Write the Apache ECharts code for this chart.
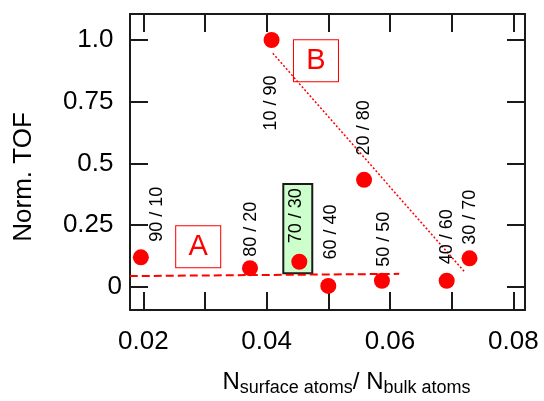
<!DOCTYPE html>
<html><head><meta charset="utf-8">
<script src="https://cdn.jsdelivr.net/npm/echarts@6/dist/echarts.min.js"></script>
<style>html,body{margin:0;padding:0;background:#fff}#c{width:544px;height:401px}</style>
</head><body><div id="c"></div>
<script>
// ---- data ----
const ratioLabels = ['90 / 10','80 / 20','10 / 90','70 / 30','60 / 40','20 / 80','50 / 50','40 / 60','30 / 70'];
const surfaceRatio = [0.0196, 0.0373, 0.0408, 0.0453, 0.0500, 0.0558, 0.0587, 0.0692, 0.0729];
const normTOF      = [0.119, 0.075, 1.000, 0.101, 0.003, 0.433, 0.024, 0.024, 0.115];
const lineAX = [0.0178, 0.0615];
const lineAY = [0.043, 0.052];
const lineBX = [0.0410, 0.0722];
const lineBY = [0.946, 0.057];
const xTicks = [0.02, 0.03, 0.04, 0.05, 0.06, 0.07, 0.08];
const xTickLabels = [0.02, 0.04, 0.06, 0.08];
const yTicks = [0, 0.25, 0.5, 0.75, 1.0];
const yTickText = ['0', '0.25', '0.5', '0.75', '1.0'];
const boxLabels = ['A', 'B'];
const boxX = [0.0289, 0.0480];
const boxY = [0.162, 0.916];
const highlightXRange = [0.0427, 0.0474];
const highlightYRange = [0.054, 0.416];

// ---- styles ----
const FONT = '"Liberation Sans", Arial, Helvetica, sans-serif';
const labelShift = [[16,-43],[1,-39],[-1,63],[-3.5,-46],[3,-54],[0,-52],[2,-41.5],[0.5,-44],[1,-41]];
const RED = '#ff0000';
const INK = '#1a1a1a';
const XMIN = 0.01784, XMAX = 0.0819, YMIN = -0.0945, YMAX = 1.1054;

const chart = echarts.init(document.getElementById('c'), null, {renderer: 'canvas'});

const scatterData = surfaceRatio.map((x, i) => ({
  value: [x, normTOF[i]],
  label: {
    show: true,
    formatter: ratioLabels[i],
    position: [8 + labelShift[i][0], 8 + labelShift[i][1]],
    rotate: 90,
    align: 'center',
    verticalAlign: 'middle',
    fontSize: 18,
    fontFamily: FONT,
    color: '#000'
  }
}));

const axisLineStyle = {show: true, onZero: false, lineStyle: {color: INK, width: 2}};
const tickStyle = (vals) => ({show: true, inside: true, length: 18, customValues: vals, lineStyle: {color: INK, width: 2}});

chart.setOption({
  animation: false,
  backgroundColor: '#fff',
  grid: {left: 130, right: 19, top: 14, bottom: 91, containLabel: false, outerBoundsMode: 'none'},
  xAxis: [{
    type: 'value', position: 'bottom', min: XMIN, max: XMAX,
    axisLine: axisLineStyle,
    axisTick: tickStyle(xTicks),
    splitLine: {show: false},
    axisLabel: {customValues: xTickLabels, formatter: v => v.toFixed(2), fontSize: 26, fontFamily: FONT, color: '#000', margin: 19},
    name: '{n|N}{s|surface atoms}{n|/ N}{s|bulk atoms}',
    nameLocation: 'middle', nameGap: 57,
    nameTextStyle: {
      padding: [0, 0, 0, 38],
      rich: {
        n: {fontSize: 24, fontFamily: FONT, color: '#000', lineHeight: 30, verticalAlign: 'middle'},
        s: {fontSize: 18, fontFamily: FONT, color: '#000', lineHeight: 10, verticalAlign: 'bottom'}
      }
    }
  }, {
    type: 'value', position: 'top', min: XMIN, max: XMAX,
    axisLine: axisLineStyle, axisTick: tickStyle(xTicks),
    axisLabel: {show: false}, splitLine: {show: false}
  }],
  yAxis: [{
    type: 'value', position: 'left', min: YMIN, max: YMAX,
    axisLine: axisLineStyle,
    axisTick: tickStyle(yTicks),
    splitLine: {show: false},
    axisLabel: {
      customValues: yTicks,
      formatter: v => {
        const i = yTicks.findIndex(t => Math.abs(t - v) < 1e-9);
        const t = i >= 0 ? yTickText[i] : String(v);
        return v === 0 ? '{z|' + t + '}' : '{p|' + t + '}';
      },
      margin: 8,
      rich: {
        z: {fontSize: 26, fontFamily: FONT, color: '#000'},
        p: {fontSize: 26, fontFamily: FONT, color: '#000', padding: [0, 8.5, 0, 0]}
      }
    },
    name: 'Norm. TOF',
    nameLocation: 'middle', nameGap: 93,
    nameTextStyle: {fontSize: 26, fontFamily: FONT, color: '#000', padding: [0, 30, 0, 0]}
  }, {
    type: 'value', position: 'right', min: YMIN, max: YMAX,
    axisLine: axisLineStyle, axisTick: tickStyle(yTicks),
    axisLabel: {show: false}, splitLine: {show: false}
  }],
  series: [{
    type: 'line',
    data: lineAX.map((x, i) => [x, lineAY[i]]),
    symbol: 'none',
    lineStyle: {color: RED, width: 2, type: [8, 4]},
    z: 3,
    markArea: {
      silent: true,
      itemStyle: {color: '#ccffcc', borderColor: INK, borderWidth: 2, opacity: 1},
      label: {show: false},
      data: [[{coord: [highlightXRange[0], highlightYRange[1]]}, {coord: [highlightXRange[1], highlightYRange[0]]}]]
    },
    markPoint: {
      z: 3,
      silent: true,
      data: boxLabels.map((t, i) => ({
        coord: [boxX[i], boxY[i]],
        symbol: 'rect', symbolSize: [45, 42],
        itemStyle: {color: '#fff', borderColor: RED, borderWidth: 1},
        label: {show: true, position: 'inside', formatter: t, color: RED, fontSize: 29, fontFamily: FONT}
      }))
    }
  }, {
    type: 'line',
    data: lineBX.map((x, i) => [x, lineBY[i]]),
    symbol: 'none',
    lineStyle: {color: RED, width: 1.5, type: [2, 2]},
    z: 4
  }, {
    type: 'scatter',
    data: scatterData,
    symbol: 'circle',
    symbolSize: 16,
    itemStyle: {color: RED, opacity: 1},
    z: 10
  }]
});
</script></body></html>
